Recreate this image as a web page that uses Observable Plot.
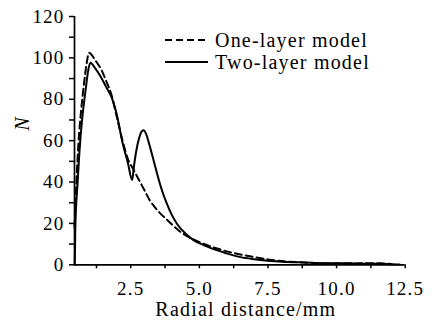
<!DOCTYPE html>
<html>
<head>
<meta charset="utf-8">
<script src="https://cdn.jsdelivr.net/npm/d3@7"></script>
<script src="https://cdn.jsdelivr.net/npm/@observablehq/plot@0.6"></script>
<style>
  html, body { margin: 0; padding: 0; background: #fff; }
  #wrap { position: relative; width: 432px; height: 320px; font-family: 'Liberation Serif', 'Times New Roman', Times, 'DejaVu Serif', serif; }
  #wrap svg text { font-family: 'Liberation Serif', 'Times New Roman', Times, 'DejaVu Serif', serif; }
  .leg { position: absolute; font-size: 20px; line-height: 20px; letter-spacing: 1.2px; color: #000; white-space: nowrap; }
  .sample { position: absolute; }
</style>
</head>
<body>
<div id="wrap"></div>
<script>
// ---- data ----
const seriesNames = ["One-layer model", "Two-layer model"];
const oneLayerX = [0.45, 0.52, 0.6, 0.68, 0.8, 0.9, 0.98, 1.1, 1.25, 1.4, 1.6, 1.8, 2.0, 2.2, 2.4, 2.6, 2.8, 3.0, 3.2, 3.4, 3.6, 3.8, 4.0, 4.3, 4.6, 5.0, 5.5, 6.0, 6.5, 7.0, 7.5, 8.0, 8.5, 9.0, 10.0, 11.0, 11.5, 12.0];
const oneLayerY = [18, 40, 60, 73, 88, 98, 102.5, 101, 98, 95, 89, 82, 71, 60, 51, 46, 41, 36, 31, 27.5, 24.5, 22, 19.5, 16, 13.5, 11, 8.5, 6.5, 5, 3.7, 2.6, 1.8, 1.3, 1.0, 0.6, 0.7, 0.8, 0.4];
const twoLayerX = [0.46, 0.48, 0.56, 0.66, 0.75, 0.86, 0.95, 1.03, 1.2, 1.4, 1.6, 1.8, 2.0, 2.2, 2.4, 2.55, 2.62, 2.7, 2.8, 2.9, 2.97, 3.05, 3.2, 3.4, 3.6, 3.8, 4.0, 4.2, 4.5, 4.8, 5.2, 5.6, 6.0, 6.5, 7.0, 7.5, 8.0, 8.6, 9.5, 10.5, 11.5, 12.0, 12.3];
const twoLayerY = [0, 18, 39, 60, 73, 85, 94, 97.6, 95, 91, 86, 81, 72, 59, 49, 41, 48, 55, 61, 64.5, 65, 63.5, 57, 47, 37.5, 30, 24, 19.5, 15, 11.8, 9.3, 7.2, 5.5, 3.7, 2.7, 2.0, 1.5, 1.2, 0.8, 0.7, 0.5, 0.3, 0.1];
const xMajorTicks = [2.5, 5.0, 7.5, 10.0, 12.5];
const xMinorTicks = [1.25, 3.75, 6.25, 8.75, 11.25];
const yMajorTicks = [0, 20, 40, 60, 80, 100, 120];
const yMinorTicks = [10, 30, 50, 70, 90, 110];
const xDomain = [0.45, 12.5];
const yDomain = [0, 120];
const xLabel = "Radial distance/mm";
const yLabel = "N";

const oneLayer = oneLayerX.map((x, i) => ({x, y: oneLayerY[i]}));
const twoLayer = twoLayerX.map((x, i) => ({x, y: twoLayerY[i]}));

const serif = "'Liberation Serif', 'Times New Roman', Times, 'DejaVu Serif', serif";

const chart = Plot.plot({
  width: 432,
  height: 320,
  marginLeft: 74,
  marginRight: 27.3,
  marginTop: 16,
  marginBottom: 55.7,
  style: {fontFamily: serif, fontSize: "19px", letterSpacing: "1.2px", color: "#000", background: "transparent", overflow: "visible"},
  x: {domain: xDomain},
  y: {domain: yDomain},
  marks: [
    Plot.axisX({ticks: xMinorTicks, tickSize: 4, tickFormat: () => "", label: null, strokeWidth: 1.5}),
    Plot.axisX({ticks: xMajorTicks, tickSize: 4, tickPadding: 13, tickFormat: d => d.toFixed(1), label: null, strokeWidth: 1.5}),
    Plot.axisY({ticks: yMinorTicks, tickSize: 5, tickFormat: () => "", label: null, strokeWidth: 1.5}),
    Plot.axisY({ticks: yMajorTicks, tickSize: 5, tickPadding: 5, tickFormat: d => String(d), label: null, strokeWidth: 1.5}),
    Plot.ruleY([yDomain[0]], {stroke: "#000", strokeWidth: 1.7}),
    Plot.ruleX([xDomain[0]], {stroke: "#000", strokeWidth: 1.7}),
    Plot.line(oneLayer, {x: "x", y: "y", curve: "monotone-x", stroke: "#000", strokeWidth: 2, strokeDasharray: "7,4"}),
    Plot.line(twoLayer, {x: "x", y: "y", curve: "monotone-x", stroke: "#000", strokeWidth: 2}),
    Plot.text([xLabel], {text: d => d, frameAnchor: "bottom", lineAnchor: "bottom", dy: 51, dx: 6, fontSize: 20}),
    Plot.text([yLabel], {text: d => d, frameAnchor: "left", rotate: -90, dx: -51.5, dy: -10, fontSize: 20, fontStyle: "italic"})
  ]
});

const wrap = document.getElementById("wrap");
wrap.appendChild(chart);

// legend
const rows = [{top: 30, lineY: 40, dash: "7,4"}, {top: 51.6, lineY: 61.7, dash: null}];
seriesNames.forEach((name, i) => {
  const r = rows[i];
  const s = document.createElementNS("http://www.w3.org/2000/svg", "svg");
  s.setAttribute("class", "sample");
  s.setAttribute("width", 46);
  s.setAttribute("height", 10);
  s.style.left = "164px";
  s.style.top = (r.lineY - 5) + "px";
  const l = document.createElementNS("http://www.w3.org/2000/svg", "line");
  l.setAttribute("x1", 1); l.setAttribute("x2", 44);
  l.setAttribute("y1", 5); l.setAttribute("y2", 5);
  l.setAttribute("stroke", "#000"); l.setAttribute("stroke-width", 2);
  if (r.dash) l.setAttribute("stroke-dasharray", r.dash);
  s.appendChild(l);
  wrap.appendChild(s);
  const t = document.createElement("div");
  t.className = "leg";
  t.style.left = "215px";
  t.style.top = r.top + "px";
  t.style.fontFamily = serif;
  t.textContent = name;
  wrap.appendChild(t);
});
</script>
</body>
</html>
